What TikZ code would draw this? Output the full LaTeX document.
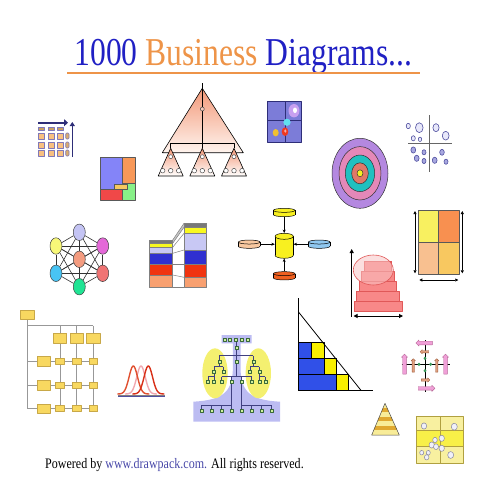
\documentclass[tikz,border=0pt]{standalone}
\usepackage{graphicx}
\usepackage{fontspec}
\setmainfont{Liberation Serif}
\usetikzlibrary{arrows.meta,shapes.geometric,shapes.arrows,backgrounds}
\definecolor{tblue}{HTML}{2020C4}
\definecolor{torange}{HTML}{EE9448}
\definecolor{linkblue}{HTML}{4848A8}
\definecolor{navy}{HTML}{2E2E78}
\definecolor{cellfill}{HTML}{F8C080}
\definecolor{cellline}{HTML}{8078B8}
\definecolor{cellbrown}{HTML}{C8A060}
\definecolor{qblue}{HTML}{8484F8}
\definecolor{qorange}{HTML}{F89858}
\definecolor{qgreen}{HTML}{88F088}
\definecolor{qred}{HTML}{F04848}
\definecolor{qyellow}{HTML}{F8C860}
\definecolor{hsalmon}{HTML}{F29878}
\definecolor{hlight}{HTML}{FFF4EE}
\definecolor{purp}{HTML}{7C7CD8}
\definecolor{plav}{HTML}{C8A0F0}
\definecolor{pcyan}{HTML}{60E0F0}
\definecolor{pred}{HTML}{F03820}
\definecolor{pyel}{HTML}{F0C030}
\definecolor{rga}{HTML}{B488E0}
\definecolor{rgb}{HTML}{E488B8}
\definecolor{rgc}{HTML}{20C0C0}
\definecolor{rgd}{HTML}{E07868}
\definecolor{rge}{HTML}{F8F020}
\definecolor{sclight}{HTML}{E8E8FA}
\definecolor{scdark}{HTML}{A8A8E0}
\definecolor{scline}{HTML}{5050A0}
\definecolor{nlav}{HTML}{C4C4F4}
\definecolor{nyel}{HTML}{F8F878}
\definecolor{nmag}{HTML}{E468D8}
\definecolor{nsal}{HTML}{F49C80}
\definecolor{ncyan}{HTML}{48C4F4}
\definecolor{nred}{HTML}{F07474}
\definecolor{ngreen}{HTML}{20E494}
\definecolor{kgray}{HTML}{787878}
\definecolor{kyel}{HTML}{F8F820}
\definecolor{klav}{HTML}{C8C8F4}
\definecolor{kblue}{HTML}{3030D0}
\definecolor{kred}{HTML}{F03410}
\definecolor{ksal}{HTML}{F8A070}
\definecolor{dbyel}{HTML}{F8F020}
\definecolor{dbpeach}{HTML}{F8C8A0}
\definecolor{dbblue}{HTML}{90C8F0}
\definecolor{dbred}{HTML}{F06020}
\definecolor{pkfill}{HTML}{F88888}
\definecolor{pkline}{HTML}{E05858}
\definecolor{pkell}{HTML}{F8C4C4}
\definecolor{gyel}{HTML}{F8F060}
\definecolor{gora}{HTML}{F89050}
\definecolor{gpeach}{HTML}{F8C090}
\definecolor{glor}{HTML}{F8C860}
\definecolor{orgfill}{HTML}{F8D860}
\definecolor{orgline}{HTML}{C8A848}
\definecolor{orglink}{HTML}{989898}
\definecolor{bella}{HTML}{E05030}
\definecolor{bellb}{HTML}{F0A8B0}
\definecolor{bellc}{HTML}{D83018}
\definecolor{treelav}{HTML}{BCBCF2}
\definecolor{treeyel}{HTML}{F4F070}
\definecolor{treenode}{HTML}{D0F0A0}
\definecolor{treedark}{HTML}{386838}
\definecolor{treeline}{HTML}{404080}
\definecolor{trblue}{HTML}{3050E8}
\definecolor{tryel}{HTML}{F8F000}
\definecolor{cpink}{HTML}{F0A0D8}
\definecolor{cpinkl}{HTML}{B86898}
\definecolor{cora}{HTML}{E0A080}
\definecolor{coral}{HTML}{A06040}
\definecolor{cgreen}{HTML}{3C9C5C}
\definecolor{stpale}{HTML}{F8EC98}
\definecolor{stdark}{HTML}{E0A830}
\definecolor{bxpale}{HTML}{F8F0A0}
\definecolor{bxbright}{HTML}{F8F048}
\definecolor{bxline}{HTML}{B0A040}
\definecolor{bubfill}{HTML}{F0F0FA}
\definecolor{bubline}{HTML}{8888A0}
\newcommand\dbcyl[7]{%
  \pgfmathsetmacro\cyrx{#4/2}%
  \pgfmathsetmacro\cytop{#3-#5/2+#6}%
  \pgfmathsetmacro\cybot{#3+#5/2-#6}%
  \filldraw[fill=#7,draw=black,line width=0.5pt] (#2,\cybot) ellipse [x radius=\cyrx, y radius=#6];
  \fill[#7] (#2-\cyrx,\cytop) rectangle (#2+\cyrx,\cybot);
  \draw[line width=0.5pt] (#2-\cyrx,\cytop) -- (#2-\cyrx,\cybot) (#2+\cyrx,\cytop) -- (#2+\cyrx,\cybot);
  \filldraw[fill=#7,draw=black,line width=0.5pt] (#2,\cytop) ellipse [x radius=\cyrx, y radius=#6];
  \node[inner sep=0pt,minimum width=#4pt,minimum height=#5pt] (#1) at (#2,#3) {};
}
\tikzset{
  gcell/.style={draw=cellline,line width=0.6pt},
  qbox/.style={draw=gray!70!black,line width=0.5pt},
  hline/.style={line width=0.6pt},
  hcirc/.style={fill=white,draw=black!70,line width=0.5pt},
  netnode/.style={ellipse,draw=black!75,line width=0.5pt,minimum width=12pt,minimum height=16.5pt,inner sep=0pt},
  orgbox/.style={fill=orgfill,draw=orgline,line width=0.6pt},
  orgwire/.style={orglink,line width=0.7pt},
  tnode/.style={fill=treenode,draw=treedark,line width=0.5pt},
  bubble/.style={fill=bubfill,draw=bubline,line width=0.5pt},
  parrow/.style={single arrow,fill=cpink,draw=cpinkl,line width=0.4pt,inner sep=1.6pt,single arrow head extend=1.3pt,minimum width=6pt},
  oarrow/.style={single arrow,fill=cora,draw=coral,line width=0.4pt,inner sep=1pt,single arrow head extend=0.9pt,minimum width=3.8pt},
  dblarrow/.style={line width=0.7pt,{Triangle[length=3pt,width=3pt]}-{Triangle[length=3pt,width=3pt]}}
}
\begin{document}
\begin{tikzpicture}[x=1pt,y=-1pt,line join=round]
\useasboundingbox (0,0) rectangle (480,480);
% title
\node[anchor=base,inner sep=0pt] (title) at (243.5,65) {\scalebox{0.8}[1]{\fontsize{39.5}{40}\selectfont\textcolor{tblue}{1000} \textcolor{torange}{Business} \textcolor{tblue}{Diagrams...}}};
\draw[torange,line width=2pt] (67,73) -- (420,73);
% footer
\node[anchor=base west,inner sep=0pt] (foot) at (45,468) {\scalebox{0.83}[1]{\fontsize{14.5}{15}\selectfont Powered by \textcolor{linkblue}{www.drawpack.com.} All rights reserved.}};

% 1 grid with arrows
\draw[navy,line width=2.4pt,-{Triangle[length=4pt,width=7pt]}] (38,122.7) -- (68,122.7);
\draw[navy,line width=1.4pt,-{Triangle[length=4pt,width=5pt]}] (72.3,157) -- (72.3,122);
\foreach \gx in {38.3,48.3,57.7}{
  \filldraw[gcell,fill=cellbrown] (\gx,127.7) rectangle ++(5.7,3);
  \foreach \gy in {133,142,150}
    \filldraw[gcell,fill=cellfill] (\gx,\gy) rectangle ++(5.7,6);
}
\foreach \gy in {133,142,150}
  \filldraw[gcell,fill=cellbrown!60!cellfill,rounded corners=1pt] (65.7,\gy) rectangle ++(3.3,6);

% 2 square with blocks
\filldraw[qbox,fill=qblue] (100,157.3) rectangle (122.3,189.3);
\filldraw[qbox,fill=qorange] (122.3,157.3) rectangle (135,183.3);
\filldraw[qbox,fill=qgreen] (122.3,183.3) rectangle (135,200);
\filldraw[qbox,fill=qred] (100,189.3) rectangle (122.3,200);
\filldraw[qbox,fill=qyellow] (114,184) rectangle (127.3,189.3);

% 3 hierarchy triangle
\draw[hline,top color=hsalmon,bottom color=hlight] (202.3,88.3) -- (243.3,152.7) -- (162.3,152.7) -- cycle;
\draw[hline] (202.3,83.3) -- (202.3,148.3);
\draw[hline] (170.7,148.3) -- (170.7,143.3) -- (234,143.3) -- (234,148.3);
\filldraw[hcirc,fill=hsalmon!50] (202.3,109) circle (2);
\foreach \hx in {170.7,202.3,234}{
  \draw[hline,top color=hsalmon,bottom color=white] (\hx,148.3) -- (\hx+12.5,176) -- (\hx-12.5,176) -- cycle;
  \filldraw[hcirc] (\hx,156.7) circle (2);
  \foreach \hd in {-8,0,8} \filldraw[hcirc] (\hx+\hd,170.7) circle (2.3);
}

% 4 purple square
\filldraw[fill=purp,draw=navy,line width=0.6pt] (267.3,101.7) rectangle (301.7,142.3);
\draw[navy,line width=0.8pt] (285,101.7) -- (285,142.3) (267.3,120.7) -- (301.7,120.7);
\fill[plav] (294,110.7) ellipse [x radius=5.5,y radius=6.7];
\fill[white] (295,110.3) ellipse [x radius=2,y radius=2.8];
\fill[pcyan] (287,122.3) circle (3.6);
\fill[pred] (285,131.7) ellipse [x radius=3.3,y radius=4.3];
\fill[pred!40!white] (285.3,131) ellipse [x radius=1.2,y radius=1.8];
\fill[pyel] (275.7,132.7) ellipse [x radius=3,y radius=3.7];

% 5 target
\foreach \rx/\ry/\col in {28/35/rga,21/26.7/rgb,14.7/18.3/rgc,8.3/10.5/rgd,3/3.5/rge}
  \filldraw[fill=\col,draw=black!80,line width=0.5pt] (360,173.3) ellipse [x radius=\rx,y radius=\ry];

% 6 scatter
\draw[gray!80!black,line width=0.6pt] (429.3,115) -- (429.3,171.7) (408.3,143.3) -- (451.7,143.3);
\foreach \sx/\sy/\sr in {408.3/126/2.1,419.3/127.7/3.8,413.3/138.3/2,420/139.3/1.7,436/127.7/3.1,445.7/135.7/3.4}
  \filldraw[fill=sclight,draw=scline,line width=0.6pt] (\sx,\sy) ellipse [x radius=\sr,y radius=1.3*\sr];
\foreach \sx/\sy/\sr in {413.3/150/2.4,424/152.3/2,416.7/158.3/2.4,424/161/2,434.7/160.3/2.4,442/152.3/2.3,446/161.7/2}
  \filldraw[fill=scdark,draw=scline,line width=0.6pt] (\sx,\sy) ellipse [x radius=\sr,y radius=1.3*\sr];

% 7 network
\node[netnode,fill=nlav] (n1) at (79.3,232.3) {};
\node[netnode,fill=nyel] (n2) at (56,246) {};
\node[netnode,fill=nmag] (n3) at (102.7,246) {};
\node[netnode,fill=nsal] (n4) at (79.3,259.3) {};
\node[netnode,fill=ncyan] (n5) at (56,273.3) {};
\node[netnode,fill=nred] (n6) at (102.7,273.3) {};
\node[netnode,fill=ngreen] (n7) at (79.3,286.7) {};
\begin{pgfonlayer}{background}
\foreach \na/\nb in {n1/n2,n1/n3,n1/n4,n1/n5,n1/n6,n1/n7,n2/n3,n2/n4,n2/n5,n2/n6,n2/n7,n3/n4,n3/n5,n3/n6,n3/n7,n4/n5,n4/n6,n4/n7,n5/n6,n5/n7,n6/n7}
  \draw[black!80,line width=0.6pt] (\na) -- (\nb);
\end{pgfonlayer}

% 8 stacked columns
\fill[gray!45] (172.7,240) -- (184,223.3) -- (184,227.3) -- (172.7,243.3) -- cycle;
\foreach \ka/\kb/\kc/\kd/\col in {240/243.3/223.3/227.3/kgray,243.3/247.3/227.3/233.3/kyel,247.3/253.3/233.3/250/klav,253.3/264/250/264/kblue,264/275/264/277.3/kred,275/287.7/277.3/287.7/ksal}{
  \filldraw[fill=\col,draw=gray,line width=0.5pt] (149.3,\ka) rectangle (172.7,\kb);
  \filldraw[fill=\col,draw=gray,line width=0.5pt] (184,\kc) rectangle (206.7,\kd);
  \draw[gray,line width=0.5pt] (172.7,\ka) -- (184,\kc);
}
\draw[gray,line width=0.5pt] (172.7,287.7) -- (184,287.7);

% 9 database hub
\dbcyl{dbc}{284.2}{245.8}{18.3}{25}{3}{dbyel}
\dbcyl{dbt}{284.2}{212.5}{21.7}{8.3}{2}{dbyel}
\dbcyl{dbl}{249.2}{244.2}{21.7}{8.3}{2}{dbpeach}
\dbcyl{dbr}{319.2}{244.2}{21.7}{8.3}{2}{dbblue}
\dbcyl{dbb}{284.2}{275.8}{21.7}{8.3}{2}{dbred}
\draw[line width=0.6pt,-{Stealth[length=3.5pt,width=3pt]}] (dbt.south) -- (dbc.north);
\draw[line width=0.6pt,-{Stealth[length=3.5pt,width=3pt]}] (dbb.north) -- (dbc.south);
\draw[line width=0.6pt,-{Stealth[length=3.5pt,width=3pt]}] (dbl.east) -- (dbl.east -| dbc.west);
\draw[line width=0.6pt,-{Stealth[length=3.5pt,width=3pt]}] (dbr.west) -- (dbr.west -| dbc.east);

% 10 pyramid with ellipse
\foreach \pa/\pb/\pc/\pd in {354.3/301.7/402.3/311.7,356.7/291.7/399.3/301.7,359.3/281.7/396.7/291.7,361.7/271.7/394.3/281.7,364.3/261/391.7/271.7}
  \filldraw[fill=pkfill,draw=pkline,line width=0.5pt] (\pa,\pb) rectangle (\pc,\pd);
\filldraw[fill=pkell,fill opacity=0.55,draw=pkline,line width=0.6pt] (373.3,270) ellipse [x radius=20,y radius=15];
\draw[line width=1pt,-{Triangle[length=4pt,width=4pt]}] (351.7,316.7) -- (351.7,249);
\draw[line width=1pt,{Triangle[length=4pt,width=4pt]}-{Triangle[length=4pt,width=4pt]}] (353.5,316) -- (403,316);

% 11 2x2 grid
\filldraw[qbox,fill=gyel] (418.3,210) rectangle (438.3,242.3);
\filldraw[qbox,fill=gora] (438.3,210) rectangle (459,242.3);
\filldraw[qbox,fill=gpeach] (418.3,242.3) rectangle (438.3,274.3);
\filldraw[qbox,fill=glor] (438.3,242.3) rectangle (459,274.3);
\draw[dblarrow] (415,211) -- (415,273.3);
\draw[dblarrow] (462.3,211) -- (462.3,273.3);
\draw[dblarrow] (419.3,280) -- (458.3,280);

% 12 org chart
\draw[orgwire] (27.3,319) -- (27.3,408.7) (27.3,325.7) -- (93.3,325.7);
\foreach \ox in {60,76.7,93.3} \draw[orgwire] (\ox,325.7) -- (\ox,408.7);
\foreach \oy in {361.3,385.3,408.7} \draw[orgwire] (27.3,\oy) -- (93.3,\oy);
\filldraw[orgbox] (20.7,310) rectangle (34,319.3);
\foreach \ox in {53.3,70,86.7} \filldraw[orgbox] (\ox,333.3) rectangle ++(13.4,10);
\foreach \oy in {356.7,380.7,404} \filldraw[orgbox] (37.3,\oy) rectangle ++(13.4,9.3);
\foreach \ox in {60,76.7,93.3} \foreach \oy in {361.3,385.3,408.7}
  \filldraw[orgbox] (\ox-4.3,\oy-3) rectangle ++(8.6,6);

% 13 bell curves
\draw[gray,line width=0.6pt] (118.3,395) -- (165,395);
\draw[scline,line width=0.5pt] (118.3,396.5) -- (165,396.5);
\foreach \bx/\col in {141/bellb,133.3/bella,148.3/bellc}
  \draw[\col,line width=1.4pt,domain=-16:16,samples=60,smooth] plot ({\bx+\x},{394-28*exp(-\x*\x/36)});

% 14 tree in lung shape
\fill[treelav] (221.7,335) -- (251.7,335) -- (251.7,343.3) -- (240.5,343.3) -- (240.5,368) .. controls (241,392) and (250,400) .. (280,401.7) -- (280,421.7) -- (193.3,421.7) -- (193.3,401.7) .. controls (223.4,400) and (232.4,392) .. (232.9,368) -- (232.9,343.3) -- (221.7,343.3) -- cycle;
\fill[treeyel] (215,373.3) ellipse [x radius=12.7,y radius=25];
\fill[treeyel] (258.3,373.3) ellipse [x radius=12.7,y radius=25];
\draw[treeline,line width=0.6pt]
  (236.7,339.3) -- (236.7,355.7) (219.3,355.7) -- (253.3,355.7)
  (219.3,355.7) -- (219.3,366.7) (253.3,355.7) -- (253.3,366.7) (236.7,355.7) -- (236.7,376.7)
  (214,366.7) -- (223.3,366.7) (214,366.7) -- (214,371.7) (223.3,366.7) -- (223.3,371.7)
  (250.1,366.7) -- (259.4,366.7) (250.1,366.7) -- (250.1,371.7) (259.4,366.7) -- (259.4,371.7)
  (214,371.7) -- (214,381.7) (208,376.7) -- (214,376.7) (208,376.7) -- (208,381.7)
  (259.4,371.7) -- (259.4,381.7) (259.4,376.7) -- (265.4,376.7) (265.4,376.7) -- (265.4,381.7)
  (221.7,376.7) -- (251.7,376.7) (221.7,376.7) -- (221.7,381.7) (231.7,376.7) -- (231.7,405) (241.7,376.7) -- (241.7,405) (251.7,376.7) -- (251.7,381.7)
  (201.7,405) -- (231.7,405) (241.7,405) -- (271.7,405);
\foreach \lx in {201.7,211.7,221.7,231.7,241.7,251.7,261.7,271.7}
  \draw[treeline,line width=0.6pt] (\lx,405) -- (\lx,411);
\foreach \tx/\ty in {224.3/339.3,230/339.3,235.7/339.3,241.7/339.3,247.3/339.3,236.7/347.7,
  219.3/361.7,236.7/361.7,253.3/361.7,214/371.7,223.3/371.7,250.1/371.7,259.4/371.7,
  208/381.7,214/381.7,221.7/381.7,231.7/381.7,241.7/381.7,251.7/381.7,259.4/381.7,265.4/381.7,
  201.7/411,211.7/411,221.7/411,231.7/411,241.7/411,251.7/411,261.7/411,271.7/411}
  \filldraw[tnode] (\tx-1.5,\ty-1.5) rectangle ++(3,3);

% 15 triangle with blocks
\filldraw[fill=trblue,draw=black,line width=0.5pt] (298.3,342.7) rectangle (311.7,358.3);
\filldraw[fill=tryel,draw=black,line width=0.5pt] (311.7,342.7) rectangle (324,358.3);
\filldraw[fill=trblue,draw=black,line width=0.5pt] (298.3,358.3) rectangle (324,374);
\filldraw[fill=tryel,draw=black,line width=0.5pt] (324,358.3) rectangle (336,374);
\filldraw[fill=trblue,draw=black,line width=0.5pt] (298.3,374) rectangle (336,390);
\filldraw[fill=tryel,draw=black,line width=0.5pt] (336,374) rectangle (348.3,390);
\draw[line width=0.8pt] (298.3,298.3) -- (298.3,390) -- (372.7,390);
\draw[line width=0.8pt] (298.3,311.7) -- (360.7,390);

% 16 compass arrows
\draw[line width=0.8pt] (401.7,364) -- (450,364) (425,340) -- (425,391.7);
\node[parrow,minimum height=16.6pt,shape border rotate=180] (ca1) at (425,343) {};
\node[parrow,minimum height=16.7pt] (ca2) at (425.7,388.3) {};
\node[parrow,minimum height=20pt,shape border rotate=90] (ca3) at (404.5,365) {};
\node[parrow,minimum height=20pt,shape border rotate=90] (ca4) at (445.5,365) {};
\node[oarrow,minimum height=13.4pt,shape border rotate=90] (ca5) at (413.3,366) {};
\node[oarrow,minimum height=13.4pt,shape border rotate=90] (ca6) at (436.7,366) {};
\node[oarrow,minimum height=8.6pt,shape border rotate=180] (ca7) at (425,351.7) {};
\node[oarrow,minimum height=8.6pt] (ca8) at (425,380) {};
\foreach \gx/\gy in {425/358.3,425/370.7,419/364.3,430.7/364.3}
  \fill[cgreen] (\gx,\gy) ellipse [x radius=1.5,y radius=1.8];

% 17 striped pyramid
\begin{scope}
\clip (385,403.3) -- (399.3,435) -- (371.7,435) -- cycle;
\fill[stpale] (365,400) rectangle (405,436);
\foreach \yy in {407.8,416.9,425.9} \fill[stdark] (365,\yy) rectangle (405,\yy+4.5);
\end{scope}
\draw[gray!60!black,line width=0.5pt] (385,403.3) -- (399.3,435) -- (371.7,435) -- cycle;

% 18 yellow grid with bubbles
\fill[bxpale] (416.7,416.7) rectangle (463.3,463.3);
\fill[bxbright] (416.7,430) rectangle (463.3,446.7);
\draw[bxline,line width=0.6pt] (416.7,416.7) rectangle (463.3,463.3) (440,416.7) -- (440,463.3) (416.7,430) -- (463.3,430) (416.7,446.7) -- (463.3,446.7);
\foreach \bx/\by/\br in {424/426/2.7,454.3/426.7/3,441.7/438.3/2.7,435/440/2.3,431.7/445/2.7,436/446.7/2.5,441.7/448.3/2.7,421.7/452.7/2,428.3/452.7/2,426.7/457.3/2.3,450.7/455/3}
  \filldraw[bubble] (\bx,\by) ellipse [x radius=\br,y radius=1.15*\br];
\end{tikzpicture}
\end{document}
